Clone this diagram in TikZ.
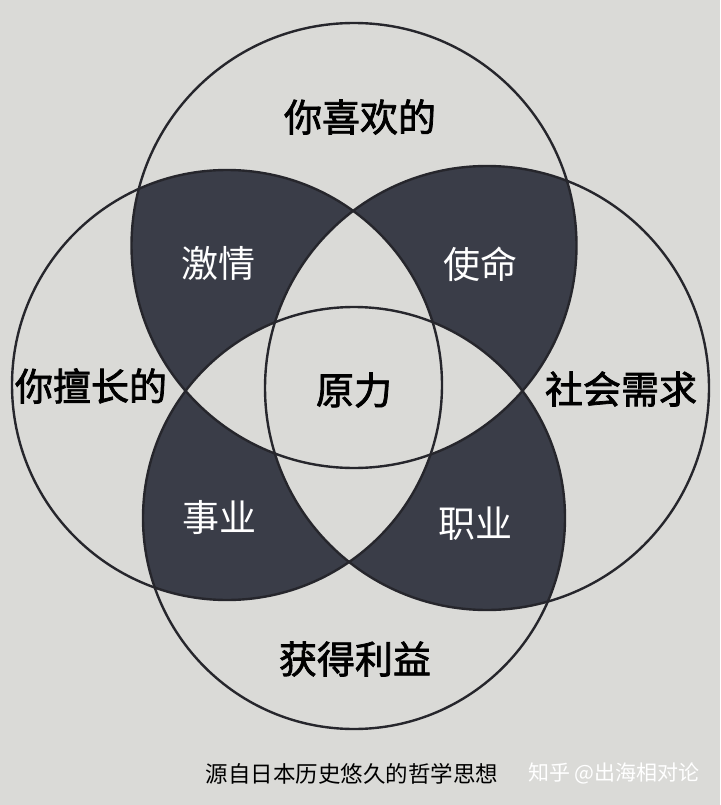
\documentclass[tikz,border=0pt]{standalone}
\usepackage{fontspec}
\newfontfamily\cjk{Noto Sans CJK SC}
\newfontfamily\cjkmed{Noto Sans CJK SC}[FakeBold=2]
\definecolor{bgc}{RGB}{218,218,215}
\definecolor{lensc}{RGB}{58,61,72}
\definecolor{linec}{RGB}{38,38,44}
\tikzset{
  ring/.style={draw=linec, line width=2.4pt},
  biglabel/.style={font=\cjkmed\fontsize{38}{40}\selectfont, text=black, inner sep=0pt},
  lenslabel/.style={font=\cjk\fontsize{37}{39}\selectfont, text=white, inner sep=0pt},
  captionlabel/.style={font=\cjk\fontsize{22.5}{24}\selectfont, text=black, inner sep=0pt},
  marklabel/.style={font=\cjk\fontsize{21}{23}\selectfont, text=white, inner sep=0pt}
}
\begin{document}
\begin{tikzpicture}[x=1pt,y=-1pt]
\useasboundingbox (0,0) rectangle (720,805);
\fill[bgc] (0,0) rectangle (720,805);
% circle centres
\coordinate (cT) at (354,245.5);
\coordinate (cL) at (227,385);
\coordinate (cR) at (487,388);
\coordinate (cB) at (354,518);
\def\rT{222.5pt}\def\rL{215pt}\def\rR{222pt}\def\rB{211pt}
% lens T & L
\begin{scope}
  \clip (cT) circle[radius=\rT];
  \clip (cL) circle[radius=\rL];
  \fill[lensc] (0,0) rectangle (720,805);
  \fill[bgc] (cR) circle[radius=\rR];
  \fill[bgc] (cB) circle[radius=\rB];
\end{scope}
% lens T & R
\begin{scope}
  \clip (cT) circle[radius=\rT];
  \clip (cR) circle[radius=\rR];
  \fill[lensc] (0,0) rectangle (720,805);
  \fill[bgc] (cL) circle[radius=\rL];
  \fill[bgc] (cB) circle[radius=\rB];
\end{scope}
% lens L & B
\begin{scope}
  \clip (cL) circle[radius=\rL];
  \clip (cB) circle[radius=\rB];
  \fill[lensc] (0,0) rectangle (720,805);
  \fill[bgc] (cT) circle[radius=\rT];
  \fill[bgc] (cR) circle[radius=\rR];
\end{scope}
% lens R & B
\begin{scope}
  \clip (cR) circle[radius=\rR];
  \clip (cB) circle[radius=\rB];
  \fill[lensc] (0,0) rectangle (720,805);
  \fill[bgc] (cT) circle[radius=\rT];
  \fill[bgc] (cL) circle[radius=\rL];
\end{scope}
% outlines
\draw[ring] (cT) circle[radius=\rT];
\draw[ring] (cL) circle[radius=\rL];
\draw[ring] (cR) circle[radius=\rR];
\draw[ring] (cB) circle[radius=\rB];
% labels
\node[biglabel] (like) at (360,117) {你喜欢的};
\node[biglabel] (good) at (91,386) {你擅长的};
\node[biglabel] (need) at (621,389) {社会需求};
\node[biglabel] (paid) at (355,659) {获得利益};
\node[biglabel] (force) at (354,390) {原力};
\node[lenslabel] (passion) at (218,263) {激情};
\node[lenslabel] (mission) at (480,264) {使命};
\node[lenslabel] (profession) at (219,517) {事业};
\node[lenslabel] (vocation) at (475,524) {职业};
\node[captionlabel] (caption) at (352,774) {源自日本历史悠久的哲学思想};
\node[marklabel] (mark) at (614,773) {知乎 @出海相对论};
\end{tikzpicture}
\end{document}
